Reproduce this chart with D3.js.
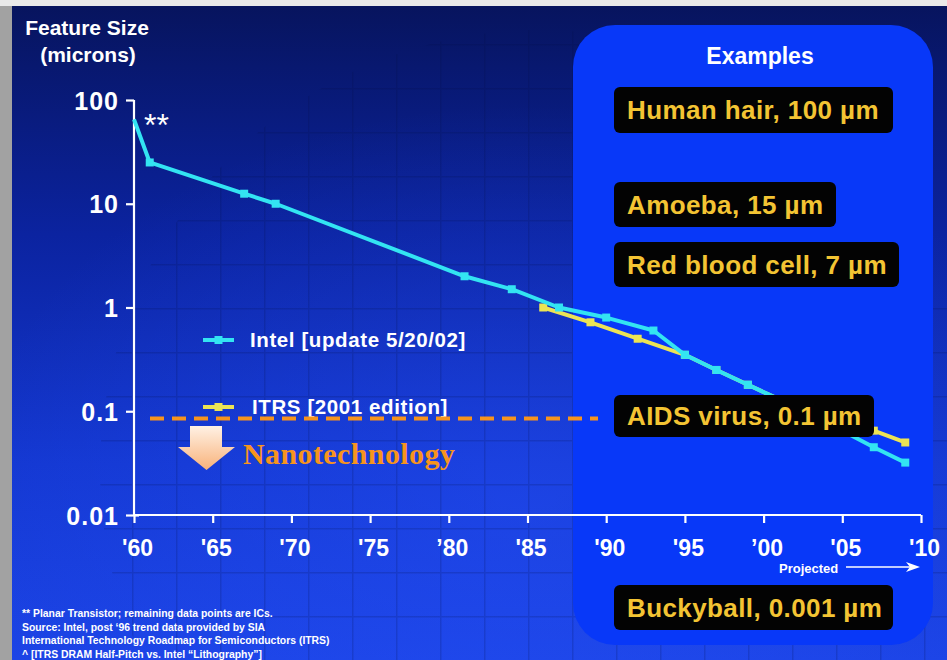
<!DOCTYPE html>
<html>
<head>
<meta charset="utf-8">
<script src="https://cdn.jsdelivr.net/npm/d3@7"></script>
<style>
  html, body { margin: 0; padding: 0; background: #d8d8d8; }
  svg { display: block; }
</style>
</head>
<body>
<svg id="chart" width="947" height="660"></svg>
<script>
// ---------------- data ----------------
const intelYears = [1960, 1961, 1967, 1969, 1981, 1984, 1987, 1990, 1993, 1995, 1997, 1999, 2001, 2003, 2005, 2007, 2009];
const intelSize  = [65,   25,   12.5, 10,   2,    1.5,  1.0,  0.8,  0.6,  0.35, 0.25, 0.18, 0.13, 0.09, 0.065, 0.045, 0.032];
const itrsYears  = [1986, 1989, 1992, 1995, 1997, 1999, 2001, 2004, 2007, 2009];
const itrsSize   = [1.0,  0.72, 0.5,  0.35, 0.25, 0.18, 0.13, 0.09, 0.065, 0.05];
const yTickValues = [100, 10, 1, 0.1, 0.01];
const yTickLabels = ["100", "10", "1", "0.1", "0.01"];
const xTickValues = [1960, 1965, 1970, 1975, 1980, 1985, 1990, 1995, 2000, 2005, 2010];
const xTickLabels = ["'60", "'65", "'70", "'75", "\u201980", "'85", "'90", "'95", "\u201900", "'05", "'10"];
const seriesNames = ["Intel [update 5/20/02]", "ITRS [2001 edition]"];
const exampleLabels = ["Human hair, 100 \u00b5m", "Amoeba, 15 \u00b5m", "Red blood cell, 7 \u00b5m", "AIDS virus, 0.1 \u00b5m", "Buckyball, 0.001 \u00b5m"];
const nanoThreshold = 0.085;
const footnotes = [
  "** Planar Transistor; remaining data points are ICs.",
  "Source: Intel, post \u201896 trend data provided by SIA",
  "International Technology Roadmap for Semiconductors (ITRS)",
  "^ [ITRS DRAM Half-Pitch vs. Intel \u201cLithography\u201d]"
];

// ---------------- setup ----------------
const svg = d3.select("#chart");
const W = 947, H = 660;
const FONT = "Liberation Sans, Arial, Helvetica, sans-serif";
const CYAN = "#33e4f2", YELLOW = "#ece454", ORANGE = "#f7941d", GOLD = "#f3c433";

const x = d3.scaleLinear().domain([1960, 2010]).range([134, 921]);
const y = d3.scaleLog().domain([0.01, 100]).range([515, 100]);

const defs = svg.append("defs");
const bg = defs.append("linearGradient").attr("id", "bg").attr("x1", 0).attr("y1", 0).attr("x2", 0).attr("y2", 1);
bg.append("stop").attr("offset", "0%").attr("stop-color", "#07145e");
bg.append("stop").attr("offset", "35%").attr("stop-color", "#0b23a0");
bg.append("stop").attr("offset", "70%").attr("stop-color", "#1438d2");
bg.append("stop").attr("offset", "100%").attr("stop-color", "#1c44e6");

const glow = defs.append("radialGradient").attr("id", "glow").attr("cx", 0.55).attr("cy", 0.75).attr("r", 0.6);
glow.append("stop").attr("offset", "0%").attr("stop-color", "#2a55ff").attr("stop-opacity", 0.35);
glow.append("stop").attr("offset", "100%").attr("stop-color", "#2a55ff").attr("stop-opacity", 0);

const arrowGrad = defs.append("linearGradient").attr("id", "arrowGrad").attr("x1", 0).attr("y1", 0).attr("x2", 0).attr("y2", 1);
arrowGrad.append("stop").attr("offset", "0%").attr("stop-color", "#fff1e4");
arrowGrad.append("stop").attr("offset", "100%").attr("stop-color", "#f8b27a");

const pat = defs.append("pattern").attr("id", "grid").attr("patternUnits", "userSpaceOnUse")
  .attr("width", 44).attr("height", 44);
pat.append("path").attr("d", "M0 0H44M0 0V44").attr("stroke", "#000a40").attr("stroke-width", 3).attr("opacity", 0.3).attr("fill", "none");
defs.append("clipPath").attr("id", "wafer").append("circle").attr("cx", 540).attr("cy", 470).attr("r", 440);

// frame / slide background
svg.append("rect").attr("x", 0).attr("y", 0).attr("width", W).attr("height", H).attr("fill", "#e9e9e9");
svg.append("rect").attr("x", 0).attr("y", 6).attr("width", 12).attr("height", H - 6).attr("fill", "#a2a2a2");
svg.append("rect").attr("x", 12).attr("y", 6).attr("width", W - 12).attr("height", H - 6).attr("fill", "url(#bg)");
svg.append("rect").attr("x", 12).attr("y", 6).attr("width", W - 12).attr("height", H - 6).attr("fill", "url(#glow)");
svg.append("rect").attr("x", 12).attr("y", 6).attr("width", W - 12).attr("height", H - 6)
  .attr("fill", "url(#grid)").attr("clip-path", "url(#wafer)").attr("opacity", 0.55);

// Examples panel
svg.append("rect").attr("x", 573).attr("y", 25).attr("width", 360).attr("height", 620)
  .attr("rx", 42).attr("fill", "#0838f8");
svg.append("text").attr("x", 760).attr("y", 64).attr("text-anchor", "middle")
  .attr("font-family", FONT).attr("font-weight", "bold").attr("font-size", 23).attr("fill", "#fff").text("Examples");

// axis title
svg.append("text").attr("x", 87).attr("y", 35).attr("text-anchor", "middle")
  .attr("font-family", FONT).attr("font-weight", "bold").attr("font-size", 21).attr("fill", "#fff").text("Feature Size");
svg.append("text").attr("x", 88).attr("y", 62).attr("text-anchor", "middle")
  .attr("font-family", FONT).attr("font-weight", "bold").attr("font-size", 21).attr("fill", "#fff").text("(microns)");

// axes
const yAxis = d3.axisLeft(y).tickValues(yTickValues).tickSize(8).tickPadding(7)
  .tickFormat((d, i) => yTickLabels[i]);
const gy = svg.append("g").attr("transform", "translate(134,0)").call(yAxis);
gy.select(".domain").attr("d", `M0,${y(100)}V${y(0.01)}`);

const xAxis = d3.axisBottom(x).tickValues(xTickValues).tickSize(8).tickPadding(17)
  .tickFormat((d, i) => xTickLabels[i]);
const gx = svg.append("g").attr("transform", "translate(0,515)").call(xAxis);
gx.select(".domain").attr("d", `M${x(1960)},0H${x(2010)}`);

[gx, gy].forEach(g => {
  g.selectAll(".domain, line").attr("stroke", "#fff").attr("stroke-width", 2.2);
  g.selectAll("text").attr("fill", "#fff").attr("font-family", FONT).attr("font-weight", "bold");
});
gx.selectAll("text").attr("font-size", 23).attr("dx", 3);
gy.selectAll("text").attr("font-size", 25).attr("letter-spacing", 1).attr("dy", "0.36em");
gy.selectAll(".tick").filter(d => d === 0.01).select("line").attr("x2", -8).attr("x1", 5);

// "**"
svg.append("text").attr("x", 144).attr("y", 136)
  .attr("font-family", FONT).attr("font-size", 32).attr("fill", "#fff").text("**");

// series
const line = d3.line().x(d => x(d[0])).y(d => y(d[1]));
const intelData = intelYears.map((yr, i) => [yr, intelSize[i]]);
const itrsData = itrsYears.map((yr, i) => [yr, itrsSize[i]]);

function drawSeries(data, color, skipFirst) {
  svg.append("path").datum(data).attr("d", line).attr("fill", "none")
    .attr("stroke", color).attr("stroke-width", 4).attr("stroke-linejoin", "round");
  svg.append("g").selectAll("rect").data(skipFirst ? data.slice(1) : data).join("rect")
    .attr("x", d => x(d[0]) - 4).attr("y", d => y(d[1]) - 4)
    .attr("width", 8).attr("height", 8).attr("fill", color);
}
drawSeries(itrsData, YELLOW, false);
drawSeries(intelData, CYAN, true);

// legend
const legendRows = [{ name: seriesNames[0], color: CYAN, cy: 340, tx: 250 }, { name: seriesNames[1], color: YELLOW, cy: 407, tx: 252 }];
legendRows.forEach(r => {
  svg.append("line").attr("x1", 203).attr("x2", 234).attr("y1", r.cy).attr("y2", r.cy)
    .attr("stroke", r.color).attr("stroke-width", 4);
  svg.append("rect").attr("x", 214.5).attr("y", r.cy - 4).attr("width", 8).attr("height", 8).attr("fill", r.color);
  svg.append("text").attr("x", r.tx).attr("y", r.cy + 7).attr("font-family", FONT).attr("font-weight", "bold")
    .attr("font-size", 20.5).attr("letter-spacing", 0.6).attr("fill", "#fff").text(r.name);
});

// example boxes
const boxes = [
  { x: 614, y: 87, w: 279, h: 46 },
  { x: 614, y: 182, w: 222, h: 45 },
  { x: 614, y: 242, w: 285, h: 45 },
  { x: 614, y: 395, w: 260, h: 42 },
  { x: 614, y: 585, w: 279, h: 45 }
];
boxes.forEach((b, i) => {
  svg.append("rect").attr("x", b.x).attr("y", b.y).attr("width", b.w).attr("height", b.h)
    .attr("rx", 6).attr("fill", "#030303");
  svg.append("text").attr("x", b.x + 13).attr("y", b.y + b.h / 2 + 9)
    .attr("font-family", FONT).attr("font-weight", "bold").attr("font-size", 26).attr("letter-spacing", 0.4)
    .attr("fill", GOLD).text(exampleLabels[i]);
});

// nanotechnology threshold
svg.append("line").attr("x1", 150).attr("x2", 598).attr("y1", y(nanoThreshold)).attr("y2", y(nanoThreshold))
  .attr("stroke", ORANGE).attr("stroke-width", 4).attr("stroke-dasharray", "14,8");
svg.append("path")
  .attr("d", "M190,426H222V447H235L206.5,470L178,447H190Z")
  .attr("fill", "url(#arrowGrad)");
svg.append("text").attr("x", 243).attr("y", 464)
  .attr("font-family", "Liberation Serif, Times New Roman, serif").attr("font-weight", "bold")
  .attr("font-size", 30).attr("letter-spacing", 0.4).attr("fill", ORANGE).text("Nanotechnology");

// projected
svg.append("text").attr("x", 779).attr("y", 573)
  .attr("font-family", FONT).attr("font-weight", "bold").attr("font-size", 13).attr("fill", "#fff").text("Projected");
svg.append("line").attr("x1", 846).attr("x2", 914).attr("y1", 567).attr("y2", 567).attr("stroke", "#fff").attr("stroke-width", 1.5);
svg.append("path").attr("d", "M906,562L920,567L906,572L910,567Z").attr("fill", "#fff");

// footnotes
footnotes.forEach((t, i) => {
  svg.append("text").attr("x", 22).attr("y", 617 + i * 13.5)
    .attr("font-family", FONT).attr("font-weight", "bold").attr("font-size", 10.4).attr("fill", "#fff").text(t);
});
</script>
</body>
</html>
